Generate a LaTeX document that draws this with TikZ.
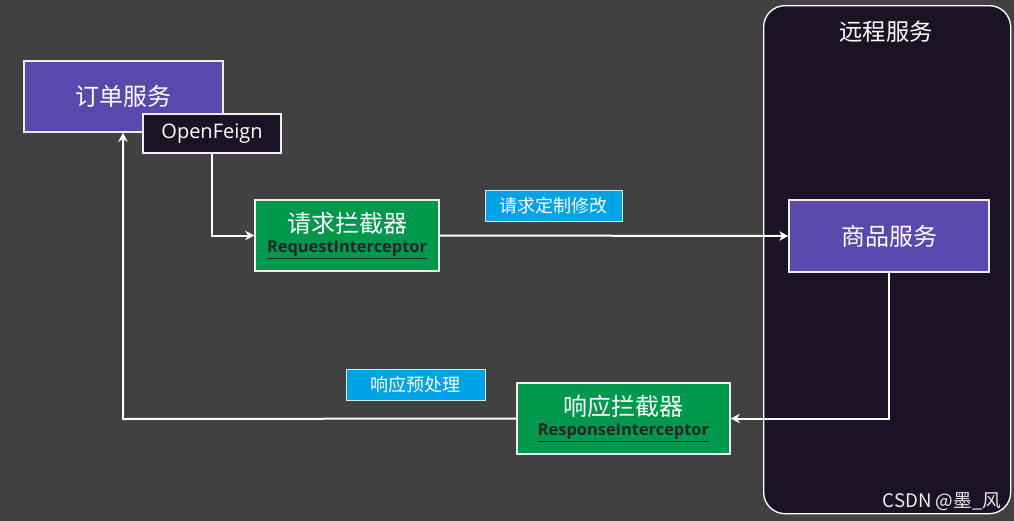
\documentclass[tikz,border=0pt]{standalone}
\usepackage{fontspec}
\setmainfont{Open Sans}
\newfontfamily\cjk{Noto Sans CJK SC}
\usetikzlibrary{arrows.meta}
\definecolor{bg}{HTML}{414141}
\definecolor{remote}{HTML}{1C1226}
\definecolor{svc}{HTML}{5B48AC}
\definecolor{grn}{HTML}{00984C}
\definecolor{lbl}{HTML}{00A2E8}
\begin{document}
\begin{tikzpicture}[x=0.75pt,y=-0.75pt,
 sz/.style 2 args={minimum width={0.75*#1pt},minimum height={0.75*#2pt}},
 box/.style={draw=white!85!gray,line width=0.8pt,text=white,inner sep=0},
 svcbox/.style={box,fill=svc,font=\cjk\fontsize{18}{20}\selectfont},
 grnbox/.style={box,fill=grn,align=center},
 lblbox/.style={draw=white!80!lbl,fill=lbl,text=white,inner sep=0,font=\cjk\fontsize{13.5}{15}\selectfont},
 arr/.style={draw=white,line width=1.5pt,-{Stealth[length=7pt,width=7pt]}}]
\useasboundingbox[fill=bg] (0,0) rectangle (1014,521);
\node[draw=white,line width=1pt,fill=remote,rounded corners=16pt,sz={247}{508},anchor=north west] (remote) at (763,5) {};
\node[text=white,font=\cjk\fontsize{17.5}{19}\selectfont] (rt) at (886,32) {远程服务};
\node[svcbox,sz={199}{71}] (order) at (123.5,96.5) {订单服务};
\node[box,fill=remote,sz={138}{39},font=\fontsize{15}{17}\selectfont] (feign) at (212,133.5) {OpenFeign};
\node[grnbox,sz={184}{71}] (req) at (347,235.5) {{\cjk\fontsize{18}{20}\selectfont 请求拦截器}\\[3pt]{\fontsize{12.3}{14}\selectfont\bfseries\color{black!85}\underline{RequestInterceptor}}};
\node[lblbox,sz={137}{31}] (l1) at (553.5,205.5) {请求定制修改};
\node[svcbox,sz={200}{72}] (goods) at (889,236) {商品服务};
\node[grnbox,sz={213}{71}] (resp) at (623.5,418.5) {{\cjk\fontsize{18}{20}\selectfont 响应拦截器}\\[3pt]{\fontsize{12.3}{14}\selectfont\bfseries\color{black!85}\underline{ResponseInterceptor}}};
\node[lblbox,sz={139}{31}] (l2) at (415.5,384.5) {响应预处理};
\draw[arr] (feign.south) |- (req.west);
\draw[arr] (req.east) -- (goods.west);
\draw[arr] (goods.south) |- (resp.east);
\coordinate (c) at (123,419);
\draw[arr] (resp.west) -- (c) -- (order.south -| c);
\node[text=white!85!gray,font=\cjk\fontsize{14}{16}\selectfont,anchor=east] (wm) at (1006,502) {CSDN @墨\_风};
\end{tikzpicture}
\end{document}
